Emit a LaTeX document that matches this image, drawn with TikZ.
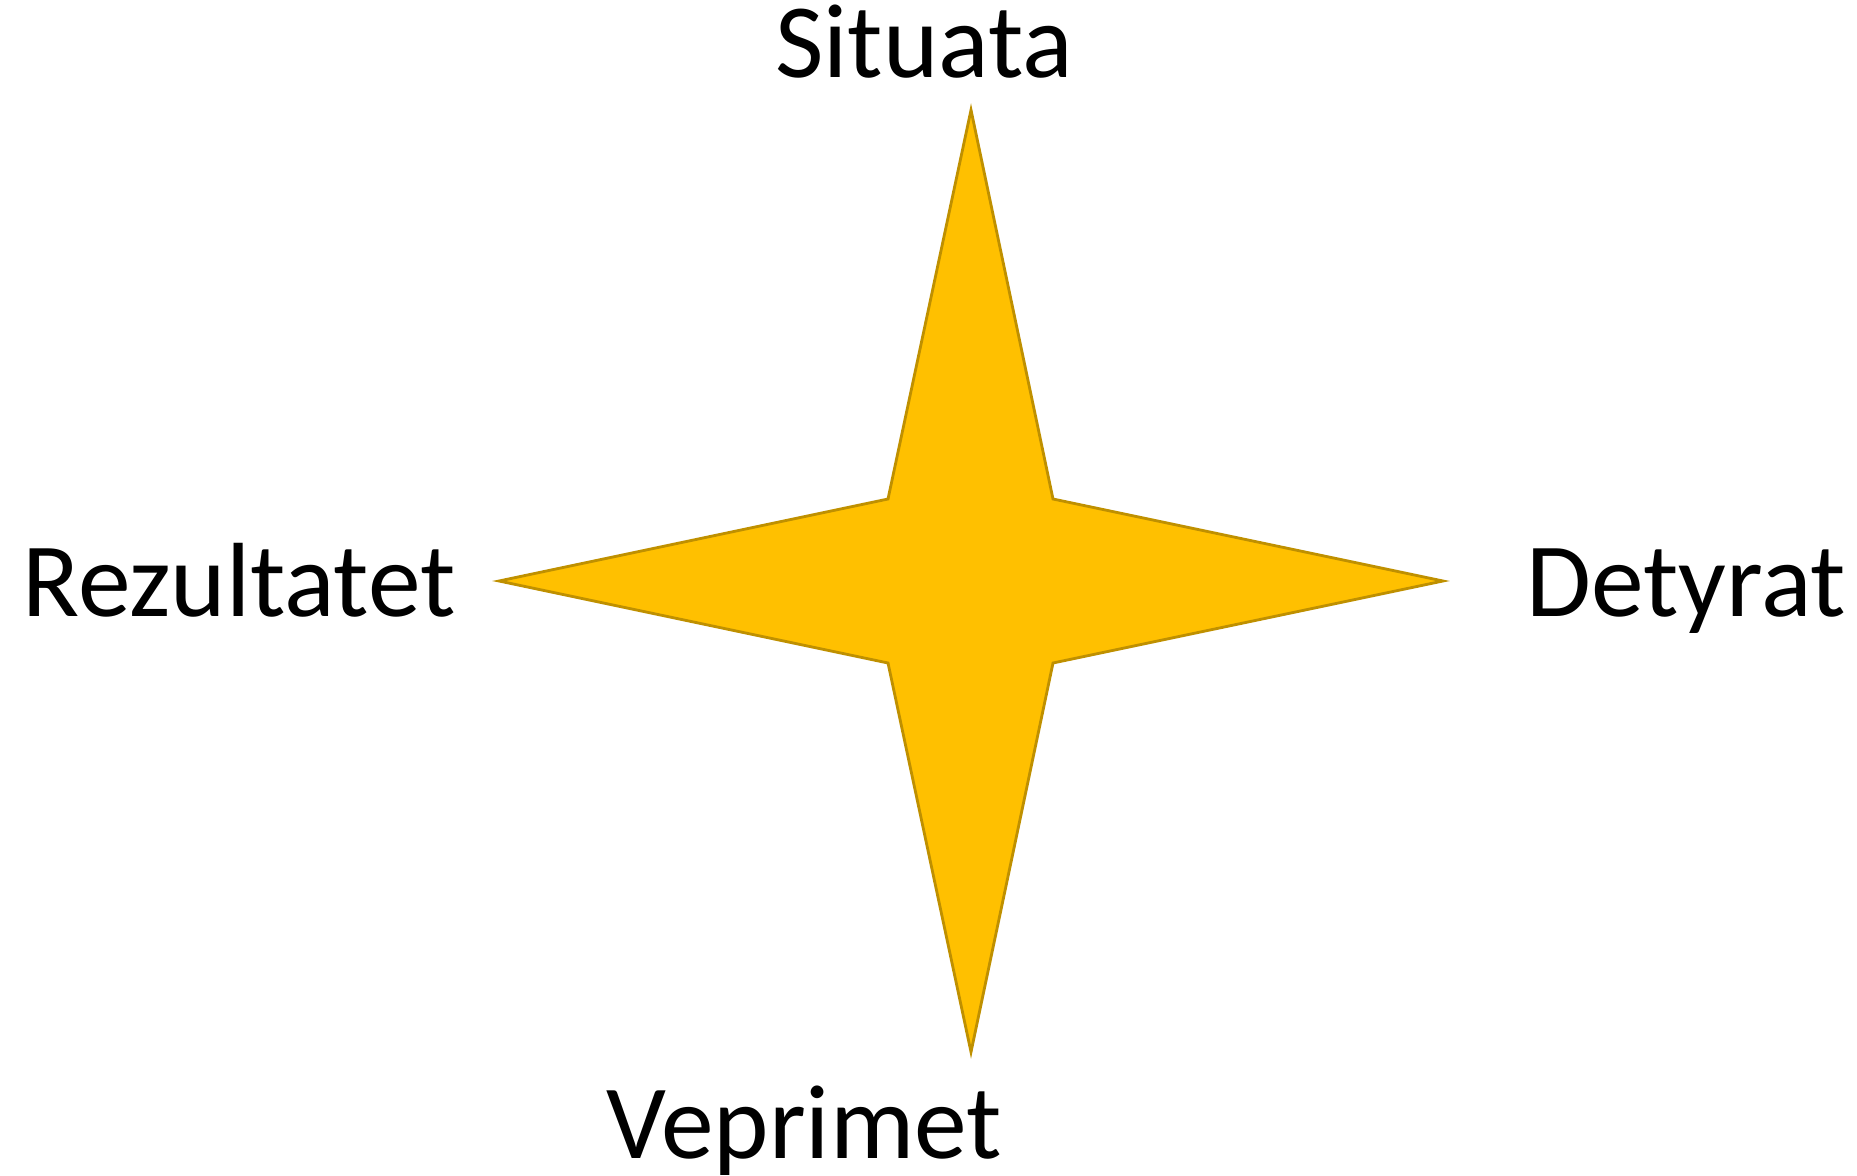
\documentclass[tikz,border=0pt]{standalone}
\usepackage{fontspec}
\setmainfont{Carlito}
\definecolor{stargold}{HTML}{FFC000}
\definecolor{stargoldline}{HTML}{BF9000}
\tikzset{
  label text/.style={anchor=base,inner sep=0pt,font=\fontsize{30}{36}\selectfont}
}
\begin{document}
\begin{tikzpicture}[x=0.01cm,y=-0.01cm]
    \useasboundingbox (0,0) rectangle (1857,1176);
    % four-pointed star
    \draw[fill=stargold,draw=stargoldline,line width=0.8pt,line join=miter]
      (971,110) -- (1053,499) -- (1443,581) -- (1053,663) -- (971,1052)
      -- (888,663) -- (499,581) -- (888,499) -- cycle;
    % labels
    \node[label text] (situata) at (924,78) {Situata};
    \node[label text] (detyrat) at (1686,616) {Detyrat};
    \node[label text] (veprimet) at (804,1158) {Veprimet};
    \node[label text] (rezultatet) at (239,616) {Rezultatet};
  \end{tikzpicture}
\end{document}
